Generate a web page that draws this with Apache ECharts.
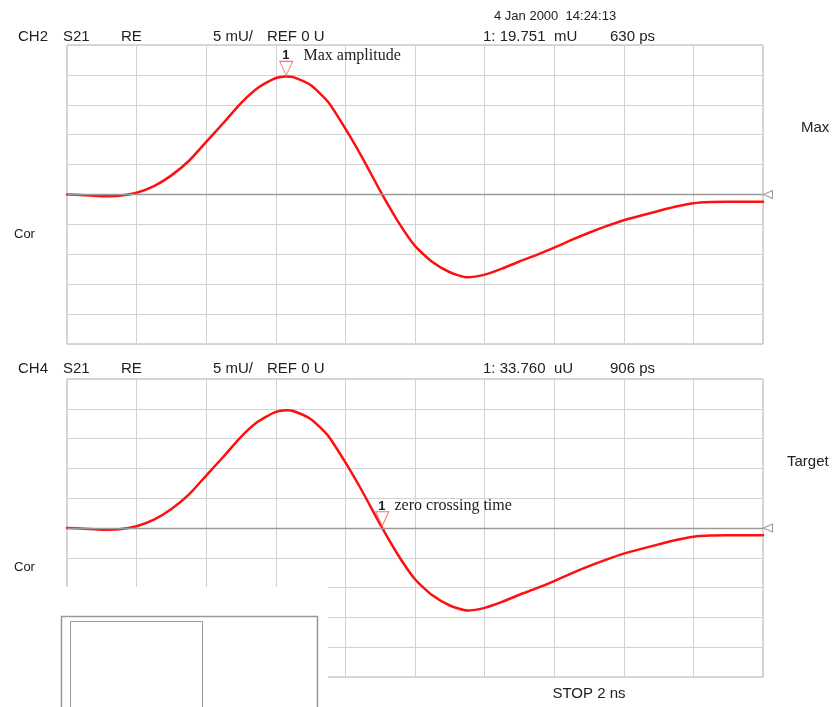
<!DOCTYPE html>
<html>
<head>
<meta charset="utf-8">
<script src="https://cdn.jsdelivr.net/npm/echarts@6/dist/echarts.min.js"></script>
<style>
html,body{margin:0;padding:0;background:#fff;}
#chart{width:836px;height:707px;}
</style>
</head>
<body>
<div id="chart"></div>
<script>
// time axis in ps, amplitude in mU
var timePs = [0, 50, 100, 150, 200, 250, 300, 350, 400, 450, 500, 550, 600, 630, 650, 700, 750, 800, 850, 900, 950, 1000, 1050, 1100, 1150, 1200, 1250, 1300, 1350, 1400, 1450, 1500, 1550, 1600, 1650, 1700, 1750, 1800, 1850, 1900, 1950, 2000];
var ch2Values = [0, -0.12, -0.28, -0.2, 0.3, 1.4, 3.2, 5.6, 8.8, 12.0, 15.3, 17.9, 19.48, 19.75, 19.63, 18.3, 15.5, 11.0, 6.0, 0.6, -4.4, -8.6, -11.3, -13.0, -13.85, -13.4, -12.4, -11.2, -10.1, -8.9, -7.6, -6.4, -5.3, -4.3, -3.5, -2.75, -2.0, -1.45, -1.25, -1.2, -1.2, -1.2];
var ch4Values = [0, -0.12, -0.28, -0.2, 0.3, 1.4, 3.2, 5.6, 8.8, 12.0, 15.3, 17.9, 19.48, 19.75, 19.63, 18.3, 15.5, 11.0, 6.0, 0.6, -4.4, -8.6, -11.3, -13.0, -13.85, -13.4, -12.4, -11.2, -10.1, -8.9, -7.6, -6.4, -5.3, -4.3, -3.5, -2.75, -2.0, -1.45, -1.25, -1.2, -1.2, -1.2];
var xMin = 0, xMax = 2000, xStep = 200;
var yMin = -25, yMax = 25, yStep = 5;
var marker1Top = [630, 19.751];      // 1: 19.751 mU at 630 ps
var marker1Bottom = [906, 0.03376];  // 1: 33.760 uU at 906 ps
var header1 = ['CH2', 'S21', 'RE', '5 mU/', 'REF 0 U', '1: 19.751  mU', '630 ps'];
var header2 = ['CH4', 'S21', 'RE', '5 mU/', 'REF 0 U', '1: 33.760  uU', '906 ps'];
var dateText = '4 Jan 2000  14:24:13';

function pairs(xs, ys){ return xs.map(function(x,i){return [x, ys[i]];}); }

var SANS = 'Liberation Sans, Arial, sans-serif';
var SERIF = 'Liberation Serif, Times New Roman, serif';

function xAx(gi){
  return {gridIndex: gi, type:'value', min:xMin, max:xMax, interval:xStep,
    axisLabel:{show:false}, axisTick:{show:false}, axisLine:{show:false},
    splitLine:{show:true, lineStyle:{color:'#d2d2d2', width:1}}};
}
function yAx(gi){
  return {gridIndex: gi, type:'value', min:yMin, max:yMax, interval:yStep,
    axisLabel:{show:false}, axisTick:{show:false}, axisLine:{show:false},
    splitLine:{show:true, lineStyle:{color:'#d2d2d2', width:1}}};
}
function markerItem(coord, label, gap, off){
  return {
    coord: coord, symbol:'triangle', symbolRotate:180, symbolSize:[13,14], symbolOffset:[0,off],
    itemStyle:{color:'#fff', borderColor:'#ff7070', borderWidth:1},
    label:{show:true, position:'top', distance:-3, align:'left', offset:[-4,0],
      formatter:'{n|1}{t|' + label + '}',
      rich:{
        n:{fontFamily:SANS, fontSize:13, fontWeight:'bold', color:'#222', lineHeight:16},
        t:{fontFamily:SERIF, fontSize:16, color:'#222', lineHeight:16, padding:[0,0,0,gap]}
      }}
  };
}
function refItem(){
  return {coord:[xMax,0], symbol:'triangle', symbolRotate:90, symbolSize:[8,9], symbolOffset:[5,0],
    itemStyle:{color:'#fff', borderColor:'#999', borderWidth:1}, label:{show:false}};
}
function series(gi, vals, mk, label, gap, off){
  return {type:'line', xAxisIndex:gi, yAxisIndex:gi, data:pairs(timePs, vals),
    showSymbol:false, smooth:0.2, silent:true, animation:false,
    lineStyle:{color:'#ff1010', width:2.5, join:'round', cap:'round'}, z:3,
    markLine:{silent:true, symbol:'none', animation:false, label:{show:false},
      lineStyle:{color:'#9a9a9a', width:1.3, type:'solid'}, data:[{yAxis:0}]},
    markPoint:{silent:true, animation:false, data:[markerItem(mk, label, gap, off), refItem()]}
  };
}

var headerX = [18, 63, 121, 213, 267, 483, 610];
var g = [];
function txt(t, x, y, size, opts){
  opts = opts || {};
  g.push({type:'text', z:200, style:{text:t, x:x, y:y, font:(opts.weight||'normal')+' '+size+'px '+SANS,
    fill:opts.fill||'#222', textAlign:opts.align||'left', textVerticalAlign:'middle', align:opts.align||'left', verticalAlign:'middle'}});
}
header1.forEach(function(t,i){ txt(t, headerX[i], 37, 15); });
header2.forEach(function(t,i){ txt(t, headerX[i], 368.5, 15); });
txt(dateText, 494, 16, 13);
txt('Max', 801, 128, 15);
txt('Target', 787, 462, 15);
txt('Cor', 14, 234, 13);
txt('Cor', 14, 567, 13);
txt('STOP 2 ns', 589, 694, 15, {align:'center'});

// overlay window in lower-left
g.push({type:'rect', z:150, shape:{x:0, y:587, width:328, height:130}, style:{fill:'#fff', stroke:null}});
g.push({type:'rect', z:160, shape:{x:61.5, y:616.5, width:256, height:100}, style:{fill:'none', stroke:'#999', lineWidth:1.5}});
g.push({type:'rect', z:160, shape:{x:70.5, y:621.5, width:132, height:100}, style:{fill:'none', stroke:'#999', lineWidth:1}});

var chart = echarts.init(document.getElementById('chart'), null, {renderer:'canvas'});
chart.setOption({
  animation:false,
  backgroundColor:'#fff',
  grid:[
    {left:67, top:45, width:696, height:299, show:true, borderColor:'#b0b0b0', borderWidth:1, backgroundColor:'transparent'},
    {left:67, top:379, width:696, height:298, show:true, borderColor:'#b0b0b0', borderWidth:1, backgroundColor:'transparent'}
  ],
  xAxis:[xAx(0), xAx(1)],
  yAxis:[yAx(0), yAx(1)],
  series:[series(0, ch2Values, marker1Top, 'Max amplitude', 14, -8), series(1, ch4Values, marker1Bottom, 'zero crossing time', 9, -9)],
  graphic:{elements:g}
});
</script>
</body>
</html>
